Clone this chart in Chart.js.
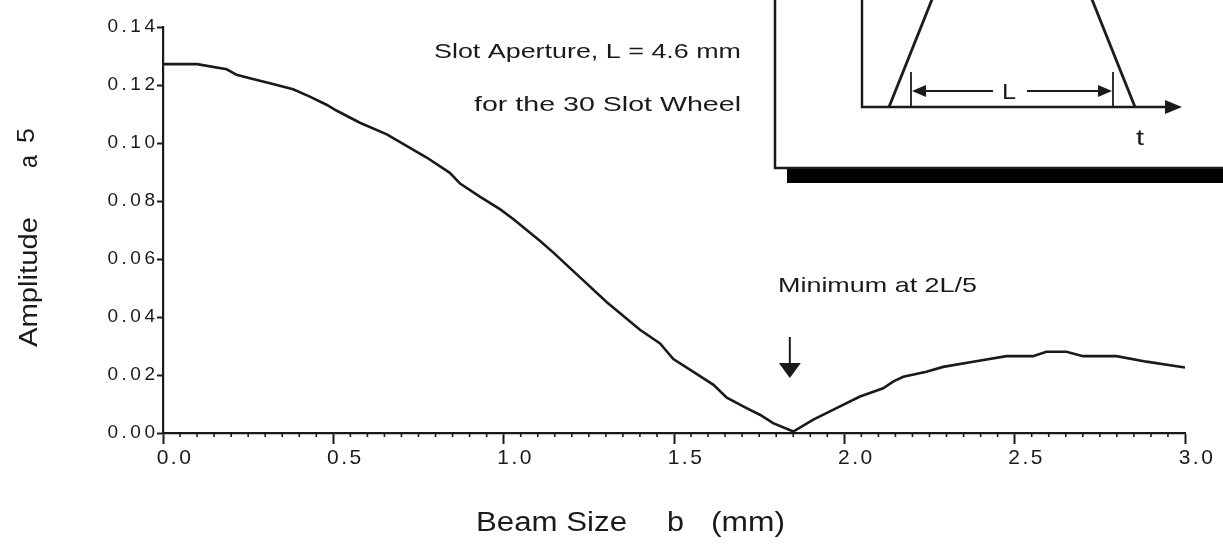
<!DOCTYPE html>
<html>
<head>
<meta charset="utf-8">
<script src="https://cdn.jsdelivr.net/npm/chart.js@4.4.1/dist/chart.umd.min.js"></script>
<style>
  html, body { margin: 0; padding: 0; background: #ffffff; }
  #wrap { width: 1223px; height: 546px; position: relative; }
</style>
</head>
<body>
<div id="wrap"><canvas id="c"></canvas></div>
<script>
// ---------------- data ----------------
const beamSize = [
  0.000, 0.100, 0.187, 0.216, 0.255, 0.314, 0.382, 0.431, 0.480, 0.509,
  0.578, 0.657, 0.696, 0.774, 0.842, 0.872, 0.930, 0.989, 1.028, 1.107,
  1.146, 1.244, 1.302, 1.400, 1.459, 1.498, 1.557, 1.616, 1.655, 1.713,
  1.752, 1.791, 1.850, 1.909, 1.977, 2.046, 2.114, 2.143, 2.173, 2.241,
  2.290, 2.378, 2.476, 2.554, 2.593, 2.652, 2.701, 2.799, 2.887, 3.000
];
const amplitude = [
  0.1272, 0.1272, 0.1254, 0.1235, 0.1223, 0.1206, 0.1185, 0.1160, 0.1132, 0.1112,
  0.1070, 0.1030, 0.1003, 0.0950, 0.0897, 0.0860, 0.0815, 0.0772, 0.0738, 0.0662,
  0.0622, 0.0515, 0.0452, 0.0356, 0.0309, 0.0255, 0.0211, 0.0166, 0.0122, 0.0086,
  0.0063, 0.0034, 0.0005, 0.0046, 0.0086, 0.0126, 0.0154, 0.0177, 0.0194, 0.0211,
  0.0228, 0.0246, 0.0265, 0.0265, 0.0280, 0.0280, 0.0265, 0.0265, 0.0246, 0.0226
];
const xTickValues = [0, 0.5, 1.0, 1.5, 2.0, 2.5, 3.0];
const yTickValues = [0, 0.02, 0.04, 0.06, 0.08, 0.10, 0.12, 0.14];
const xMinorStep = 0.05;
const xTitleParts = ['Beam Size', 'b', '(mm)'];
const yTitleParts = ['Amplitude', 'a', '5'];
const noteLines = ['Slot Aperture, L = 4.6 mm', 'for the 30 Slot Wheel'];
const minimumNote = 'Minimum at 2L/5';
const minimumAt = 1.84;
const insetLabels = ['L', 't'];

// ---------------- styling ----------------
const FONT = '"Liberation Sans", Arial, Helvetica, sans-serif';
const INK = '#1a1a1a';

function stretchedText(ctx, text, x, y, size, targetW, color) {
  ctx.save();
  ctx.font = size + 'px ' + FONT;
  ctx.fillStyle = color || INK;
  ctx.textAlign = 'left';
  ctx.textBaseline = 'alphabetic';
  const w = ctx.measureText(text).width;
  const sx = targetW ? targetW / w : 1;
  ctx.translate(x, y);
  ctx.scale(sx, 1);
  ctx.fillText(text, 0, 0);
  ctx.restore();
}

function patchLabels(scale, spacing, shift) {
  if (!scale || scale.__patched) return;
  const orig = scale.drawLabels;
  scale.drawLabels = function (area) {
    const ctx = this.ctx;
    ctx.save();
    try { ctx.letterSpacing = spacing + 'px'; } catch (e) {}
    ctx.translate(shift, 0);
    orig.call(this, area);
    ctx.restore();
  };
  scale.__patched = true;
}

const decorPlugin = {
  id: 'decor',
  beforeDraw(chart) {
    const ctx = chart.ctx;
    ctx.save();
    ctx.fillStyle = '#ffffff';
    ctx.fillRect(0, 0, chart.width, chart.height);
    ctx.restore();
    patchLabels(chart.scales.y, 3.5, 3.5);
    patchLabels(chart.scales.x, 2.5, 0);
  },
  beforeDatasetsDraw(chart) {
    const ctx = chart.ctx;
    const xs = chart.scales.x;
    const base = chart.chartArea.bottom;
    ctx.save();
    ctx.strokeStyle = INK;
    ctx.lineWidth = 1.6;
    const n = Math.round((xs.max - xs.min) / xMinorStep);
    for (let i = 1; i < n; i++) {
      if (i % 10 === 0) continue;
      const px = xs.getPixelForValue(xs.min + i * xMinorStep);
      ctx.beginPath();
      ctx.moveTo(px, base);
      ctx.lineTo(px, base + 4);
      ctx.stroke();
    }
    ctx.restore();
  },
  afterDraw(chart) {
    const ctx = chart.ctx;
    const xs = chart.scales.x;

    // ---- axis titles ----
    stretchedText(ctx, xTitleParts[0], 476, 531, 27, 151);
    stretchedText(ctx, xTitleParts[1], 667, 531, 27, 17);
    stretchedText(ctx, xTitleParts[2], 711, 531, 27, 74);

    ctx.save();
    ctx.translate(37, 347);
    ctx.rotate(-Math.PI / 2);
    stretchedText(ctx, yTitleParts[0], 0, 0, 26, 130);
    ctx.restore();
    ctx.save();
    ctx.translate(37, 168);
    ctx.rotate(-Math.PI / 2);
    stretchedText(ctx, yTitleParts[1], 0, 0, 26, 13);
    ctx.restore();
    ctx.save();
    ctx.translate(34, 143);
    ctx.rotate(-Math.PI / 2);
    stretchedText(ctx, yTitleParts[2], 0, 0, 24, 15);
    ctx.restore();

    // ---- notes ----
    stretchedText(ctx, noteLines[0], 434, 58, 21, 307);
    stretchedText(ctx, noteLines[1], 474, 111, 21, 267);
    stretchedText(ctx, minimumNote, 778, 292, 21, 199);

    // arrow pointing at the minimum
    const ax = xs.getPixelForValue(minimumAt);
    ctx.save();
    ctx.strokeStyle = INK; ctx.fillStyle = INK; ctx.lineWidth = 2;
    ctx.beginPath(); ctx.moveTo(ax, 337); ctx.lineTo(ax, 368); ctx.stroke();
    ctx.beginPath(); ctx.moveTo(ax - 11, 363); ctx.lineTo(ax + 11, 363); ctx.lineTo(ax, 378); ctx.closePath(); ctx.fill();
    ctx.restore();

    // ---- inset schematic (trapezoidal slot signal) ----
    ctx.save();
    ctx.fillStyle = '#000';
    ctx.fillRect(787, 169, 460, 14);
    ctx.fillStyle = '#fff';
    ctx.fillRect(775, -5, 460, 173);
    ctx.strokeStyle = INK; ctx.lineWidth = 2.5;
    ctx.beginPath(); ctx.moveTo(775, -5); ctx.lineTo(775, 168); ctx.lineTo(1240, 168); ctx.stroke();

    ctx.lineWidth = 2.4;
    ctx.beginPath(); ctx.moveTo(862, -5); ctx.lineTo(862, 107); ctx.lineTo(1170, 107); ctx.stroke();
    ctx.fillStyle = INK;
    ctx.beginPath(); ctx.moveTo(1182, 107); ctx.lineTo(1165, 100); ctx.lineTo(1165, 114); ctx.closePath(); ctx.fill();

    ctx.lineWidth = 2.8;
    ctx.beginPath(); ctx.moveTo(889, 107); ctx.lineTo(933, -3); ctx.stroke();
    ctx.beginPath(); ctx.moveTo(1135, 107); ctx.lineTo(1091, -3); ctx.stroke();

    ctx.lineWidth = 1.8;
    ctx.beginPath(); ctx.moveTo(911, 72); ctx.lineTo(911, 107); ctx.stroke();
    ctx.beginPath(); ctx.moveTo(1113, 72); ctx.lineTo(1113, 107); ctx.stroke();
    ctx.lineWidth = 2.2;
    ctx.beginPath(); ctx.moveTo(920, 91); ctx.lineTo(993, 91); ctx.stroke();
    ctx.beginPath(); ctx.moveTo(1027, 91); ctx.lineTo(1104, 91); ctx.stroke();
    ctx.beginPath(); ctx.moveTo(912, 91); ctx.lineTo(926, 85); ctx.lineTo(926, 97); ctx.closePath(); ctx.fill();
    ctx.beginPath(); ctx.moveTo(1112, 91); ctx.lineTo(1098, 85); ctx.lineTo(1098, 97); ctx.closePath(); ctx.fill();
    ctx.restore();
    stretchedText(ctx, insetLabels[0], 1002, 99, 22, 14);
    stretchedText(ctx, insetLabels[1], 1136, 145, 22, 8);
  }
};

const points = beamSize.map((b, i) => ({ x: b, y: amplitude[i] }));

new Chart(document.getElementById('c'), {
  type: 'scatter',
  data: {
    datasets: [{
      data: points,
      showLine: true,
      borderColor: INK,
      borderWidth: 2.6,
      pointRadius: 0,
      tension: 0,
      fill: false
    }]
  },
  options: {
    responsive: true,
    maintainAspectRatio: false,
    animation: false,
    events: [],
    layout: { padding: { top: 27, right: 38, left: 0, bottom: 0 } },
    plugins: { legend: { display: false }, tooltip: { enabled: false }, title: { display: false } },
    scales: {
      x: {
        type: 'linear',
        min: 0, max: 3,
        afterBuildTicks: s => { s.ticks = xTickValues.map(v => ({ value: v })); },
        afterFit: s => { s.height = 113; },
        ticks: {
          callback: v => Number(v).toFixed(1),
          font: { family: FONT, size: 21 },
          color: INK,
          labelOffset: 12,
          padding: 2,
          maxRotation: 0,
          autoSkip: false
        },
        grid: { drawOnChartArea: false, drawTicks: true, tickLength: 11, tickWidth: 2, tickColor: INK },
        border: { display: true, color: INK, width: 2.2 }
      },
      y: {
        type: 'linear',
        min: 0, max: 0.14,
        afterBuildTicks: s => { s.ticks = yTickValues.map(v => ({ value: v })); },
        afterFit: s => { s.width = 163; },
        ticks: {
          callback: v => Number(v).toFixed(2),
          font: { family: FONT, size: 19 },
          color: INK,
          padding: 2,
          autoSkip: false
        },
        grid: { drawOnChartArea: false, drawTicks: true, tickLength: 6, tickWidth: 2, tickColor: INK },
        border: { display: true, color: INK, width: 2.2 }
      }
    }
  },
  plugins: [decorPlugin]
});
</script>
</body>
</html>
